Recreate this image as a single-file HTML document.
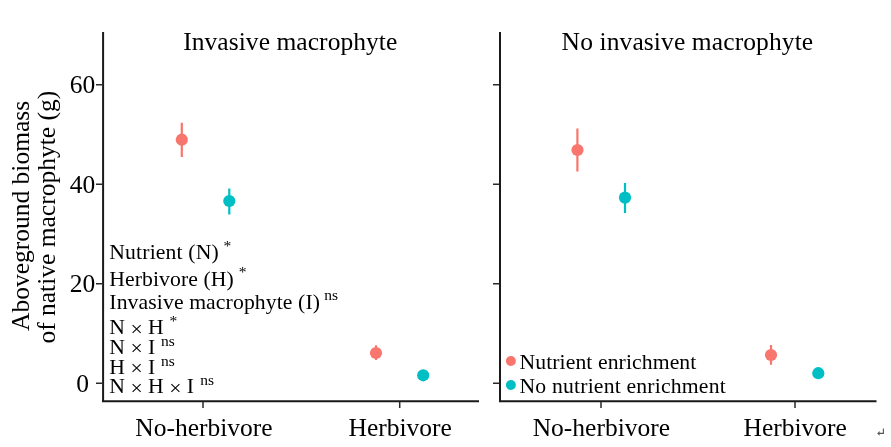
<!DOCTYPE html>
<html><head><meta charset="utf-8">
<style>
html,body{margin:0;padding:0;background:#fff;}
body{width:891px;height:447px;overflow:hidden;}
svg{display:block;will-change:transform;}
text{font-family:"Liberation Serif",serif;fill:#000;}
.t{font-size:25.5px;}
.a{font-size:21.7px;}
.s{font-size:15.5px;}
</style></head><body>
<svg width="891" height="447" viewBox="0 0 891 447">
<rect x="0" y="0" width="891" height="447" fill="#fff"/>
<!-- axes -->
<g stroke="#1a1a1a" stroke-width="2" fill="none">
<path d="M103.1 32 V402.3 M102 401.3 H479" />
<path d="M500 32 V402.3 M499 401.3 H876.5"/>
</g>
<g stroke="#2a2a2a" stroke-width="1.5" fill="none">
<path d="M96 84.8 H102 M96 184.3 H102 M96 283.8 H102 M96 383.3 H102"/>
<path d="M493 84.8 H499 M493 184.3 H499 M493 283.8 H499 M493 383.3 H499"/>
<path d="M203 402 V408 M399.7 402 V408 M601 402 V408 M795 402 V408"/>
</g>
<!-- y tick labels -->
<g class="t" text-anchor="middle">
<text x="82.5" y="93.3">60</text>
<text x="82.5" y="192.8">40</text>
<text x="82.5" y="292.3">20</text>
<text x="82.6" y="391.8">0</text>
</g>
<!-- titles -->
<text class="t" x="183.2" y="49.8" textLength="214.1" lengthAdjust="spacing">Invasive macrophyte</text>
<text class="t" x="561.6" y="49.8" textLength="251.6" lengthAdjust="spacing">No invasive macrophyte</text>
<!-- x labels -->
<text class="t" x="135.3" y="435.8">No-herbivore</text>
<text class="t" x="348.5" y="435.8">Herbivore</text>
<text class="t" x="532.7" y="435.8">No-herbivore</text>
<text class="t" x="743.5" y="435.8">Herbivore</text>
<!-- y label -->
<text class="t" transform="translate(28.7 331) rotate(-90)" x="0" y="0">Aboveground biomass</text>
<text class="t" transform="translate(54.5 343.6) rotate(-90)" x="0" y="0">of native macrophyte (g)</text>
<!-- annotations -->
<g class="a">
<text x="109.3" y="259.4" textLength="109.4" lengthAdjust="spacing">Nutrient (N)</text>
<text x="109.3" y="285.6" textLength="124.5" lengthAdjust="spacing">Herbivore (H)</text>
<text x="109.3" y="308.5" textLength="210.7" lengthAdjust="spacing">Invasive macrophyte (I)</text>
<text x="109.3" y="334.1">N <tspan dy="1.4">×</tspan><tspan dy="-1.4"> H</tspan></text>
<text x="109.3" y="354">N <tspan dy="1.4">×</tspan><tspan dy="-1.4"> I</tspan></text>
<text x="109.3" y="374">H <tspan dy="1.4">×</tspan><tspan dy="-1.4"> I</tspan></text>
<text x="109.3" y="393.2">N <tspan dy="1.4">×</tspan><tspan dy="-1.4"> H </tspan><tspan dy="1.4">×</tspan><tspan dy="-1.4"> I</tspan></text>
</g>
<g class="s">
<text x="223.4" y="251.1">*</text>
<text x="238.8" y="277.3">*</text>
<text x="324.3" y="300.2">ns</text>
<text x="169.4" y="325.8">*</text>
<text x="161.1" y="345.7">ns</text>
<text x="161.1" y="365.7">ns</text>
<text x="200.3" y="384.9">ns</text>
</g>
<!-- legend -->
<circle cx="510.9" cy="361" r="5" fill="#F8766D"/>
<circle cx="510.9" cy="385" r="5" fill="#00BFC4"/>
<text class="a" x="519.5" y="369.2" textLength="176.8" lengthAdjust="spacing">Nutrient enrichment</text>
<text class="a" x="519.5" y="393.1" textLength="206.2" lengthAdjust="spacing">No nutrient enrichment</text>
<!-- error bars -->
<g stroke-width="2.2" fill="none">
<path stroke="#F8766D" d="M181.8 122.8 V157 M376 345.2 V360 M577.4 128.5 V171.5 M771 345 V364.7"/>
<path stroke="#00BFC4" d="M229.3 188.5 V214.5 M625 182.9 V213"/>
</g>
<!-- points -->
<g fill="#F8766D">
<circle cx="181.8" cy="139.7" r="6.1"/>
<circle cx="376" cy="353" r="6.1"/>
<circle cx="577.5" cy="150" r="6.1"/>
<circle cx="771" cy="355" r="6.1"/>
</g>
<g fill="#00BFC4">
<circle cx="229.3" cy="201" r="6.1"/>
<circle cx="423.2" cy="375.3" r="6.1"/>
<circle cx="625" cy="197.6" r="6.1"/>
<circle cx="818.3" cy="373.2" r="6.1"/>
</g>
<!-- return mark -->
<path d="M883.4 428.6 V433.4 H878.5" stroke="#555" stroke-width="1.1" fill="none"/>
<path d="M877.1 433.4 L879.9 431.1 L879.3 433.4 L879.9 435.7 Z" fill="#555"/>
</svg>
</body></html>
